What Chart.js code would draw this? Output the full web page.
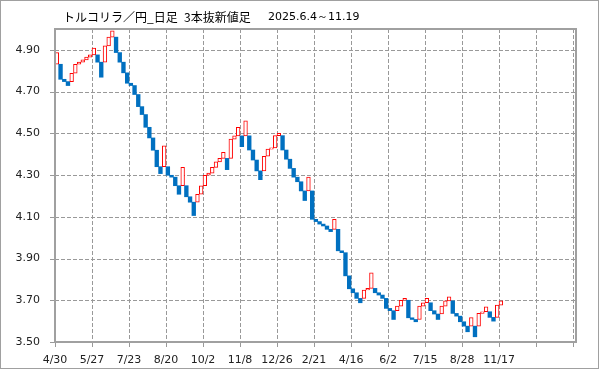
<!DOCTYPE html>
<html>
<head>
<meta charset="utf-8">
<script src="https://cdn.jsdelivr.net/npm/chart.js@4/dist/chart.umd.min.js"></script>
<style>
  html, body { margin: 0; padding: 0; background: #fff; }
  #wrap { position: relative; width: 599px; height: 369px; }
</style>
</head>
<body>
<div id="wrap"><canvas id="c"></canvas></div>
<script>
'use strict';

// ---- data (one entry per line-break bar) ----
const titleParts = ['トルコリラ／円_日足', '3本抜新値足', '2025.6.4～11.19'];
const xLabels = ['4/30','5/27','7/23','8/20','10/2','11/8','12/26','2/21','4/16','6/2','7/15','8/28','11/17','',''];
const yTicks  = [3.5, 3.7, 3.9, 4.1, 4.3, 4.5, 4.7, 4.9];

const opens = [
  4.831,4.831,4.759,4.748,4.748,4.788,4.831,4.841,4.852,4.865,
  4.876,4.876,4.841,4.841,4.919,4.961,4.961,4.887,4.841,4.790,
  4.740,4.729,4.686,4.628,4.590,4.529,4.478,4.419,4.340,4.340,
  4.340,4.299,4.290,4.249,4.249,4.249,4.196,4.170,4.170,4.208,
  4.249,4.299,4.309,4.337,4.363,4.380,4.380,4.380,4.472,4.488,
  4.488,4.488,4.488,4.420,4.372,4.320,4.320,4.390,4.424,4.430,
  4.489,4.489,4.420,4.376,4.332,4.290,4.268,4.224,4.224,4.224,
  4.088,4.077,4.065,4.056,4.040,4.040,4.040,3.937,3.928,3.817,
  3.755,3.736,3.709,3.709,3.749,3.757,3.757,3.736,3.725,3.709,
  3.661,3.650,3.650,3.672,3.700,3.700,3.616,3.608,3.608,3.672,
  3.688,3.688,3.650,3.634,3.634,3.672,3.697,3.697,3.637,3.624,
  3.597,3.576,3.576,3.576,3.576,3.637,3.645,3.645,3.618,3.618,
  3.677
];
const closes = [
  4.887,4.759,4.748,4.729,4.788,4.831,4.841,4.852,4.865,4.876,
  4.908,4.841,4.769,4.919,4.961,4.991,4.887,4.841,4.790,4.740,
  4.729,4.686,4.628,4.590,4.529,4.478,4.419,4.340,4.307,4.440,
  4.299,4.290,4.249,4.208,4.337,4.196,4.170,4.106,4.208,4.249,
  4.299,4.309,4.337,4.363,4.380,4.409,4.326,4.472,4.488,4.529,
  4.436,4.560,4.420,4.372,4.320,4.278,4.390,4.424,4.430,4.489,
  4.500,4.420,4.376,4.332,4.290,4.268,4.224,4.178,4.290,4.088,
  4.077,4.065,4.056,4.040,4.029,4.088,3.937,3.928,3.817,3.755,
  3.736,3.709,3.688,3.749,3.757,3.832,3.736,3.725,3.709,3.661,
  3.650,3.608,3.672,3.700,3.709,3.616,3.608,3.597,3.672,3.688,
  3.709,3.650,3.634,3.608,3.672,3.697,3.717,3.637,3.624,3.597,
  3.576,3.549,3.617,3.525,3.637,3.645,3.669,3.618,3.600,3.677,
  3.697
];

const UP = '#ff0000';
const DOWN = '#0070c0';
const GRID = '#999999';
const BARS_PER_LABEL = 10;
const Y_MIN = 3.5, Y_MAX = 5.0;
const X_MAX = 140.8;

const isUp = opens.map((o, i) => closes[i] > o);
const bars = opens.map((o, i) => ({ x: i + 0.5, y: [o, closes[i]] }));

// dashed grid + tick marks under the bars, painted as small filled dashes
const gridLines = {
  id: 'gridLines',
  beforeDatasetsDraw(chart) {
    const ctx = chart.ctx;
    const a = chart.chartArea;
    const xs = chart.scales.x, ys = chart.scales.y;
    const yPix = yTicks.map(v => Math.round(ys.getPixelForValue(v)));
    const xPix = xLabels.map((_, i) => Math.round(xs.getPixelForValue(i * BARS_PER_LABEL)));
    const L = Math.round(a.left), R = Math.round(a.right), T = Math.round(a.top), B = Math.round(a.bottom);
    ctx.save();
    ctx.fillStyle = GRID;
    yPix.slice(1).forEach(py => {
      for (let px = L; px < R; px += 6) ctx.fillRect(px, py, Math.min(4, R - px), 1);
    });
    xPix.slice(1).forEach(px => {
      for (let py = T; py < B; py += 6) ctx.fillRect(px, py, 1, Math.min(4, B - py));
    });
    yPix.forEach(py => ctx.fillRect(L - 5, py, 5, 1));
    xPix.forEach(px => ctx.fillRect(px, B, 1, 5));
    ctx.restore();
  }
};

// plot box, outer frame and the title line
const frame = {
  id: 'frame',
  afterDraw(chart) {
    const { ctx, chartArea: a } = chart;
    ctx.save();
    ctx.strokeStyle = '#a0a0a0';
    ctx.lineWidth = 2;
    ctx.strokeRect(Math.round(a.left), Math.round(a.top), Math.round(a.right - a.left), Math.round(a.bottom - a.top));
    ctx.lineWidth = 1;
    ctx.strokeRect(0.5, 0.5, chart.width - 1, chart.height - 1);

    ctx.fillStyle = '#000';
    ctx.textBaseline = 'middle';
    ctx.font = '12px "Noto Sans CJK JP"';
    ctx.fillText(titleParts[0], 63, 17);
    ctx.fillText(titleParts[1], 184, 17);
    ctx.font = '11px "DejaVu Sans"';
    ctx.fillText(titleParts[2], 268, 17);
    ctx.restore();
  }
};

const tickFont = { family: 'DejaVu Sans', size: 11 };

new Chart(document.getElementById('c'), {
  type: 'bar',
  data: {
    datasets: [{
      data: bars,
      backgroundColor: isUp.map(u => u ? '#ffffff' : DOWN),
      borderColor: isUp.map(u => u ? UP : DOWN),
      borderWidth: isUp.map(u => u ? 1 : 0),
      borderSkipped: false,
      barPercentage: 1,
      categoryPercentage: 1
    }]
  },
  options: {
    responsive: true,
    maintainAspectRatio: false,
    animation: false,
    layout: { padding: { top: 29, right: 23, left: 0, bottom: 0 } },
    plugins: { legend: { display: false }, tooltip: { enabled: false } },
    scales: {
      x: {
        type: 'linear',
        offset: false,
        min: 0,
        max: X_MAX,
        afterBuildTicks: s => { s.ticks = xLabels.map((_, i) => ({ value: i * BARS_PER_LABEL })); },
        afterFit: s => { s.height = 27; },
        ticks: {
          autoSkip: false, maxRotation: 0, padding: 4, color: '#222', font: tickFont,
          callback: v => xLabels[Math.round(v / BARS_PER_LABEL)]
        },
        grid: { offset: false, display: false }
      },
      y: {
        min: Y_MIN,
        max: Y_MAX,
        afterBuildTicks: s => { s.ticks = yTicks.map(v => ({ value: v })); },
        afterFit: s => { s.width = 55; },
        ticks: { padding: 7, color: '#222', font: tickFont, callback: v => v.toFixed(2) },
        grid: { display: false }
      }
    }
  },
  plugins: [gridLines, frame]
});
</script>
</body>
</html>
